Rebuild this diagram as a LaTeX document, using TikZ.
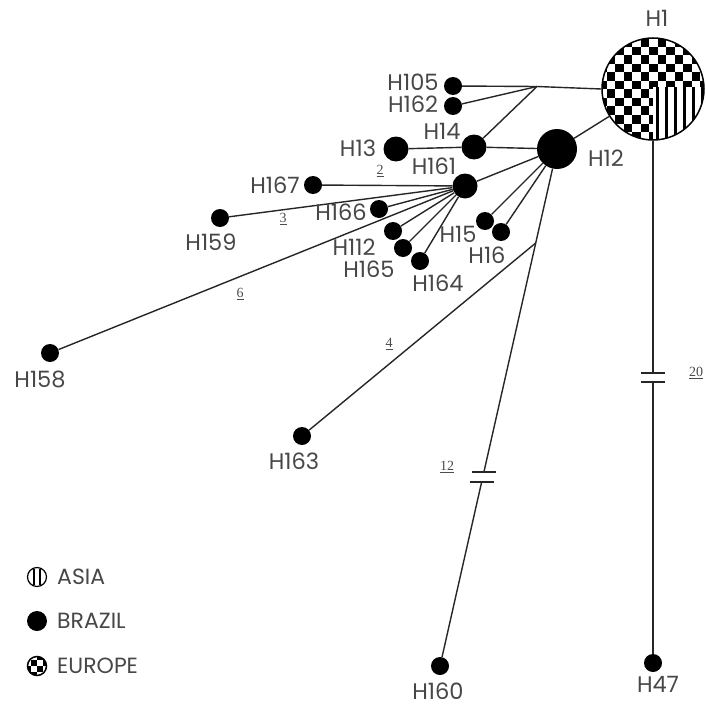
\documentclass[tikz,border=0pt]{standalone}
\usepackage{fontspec}
\setmainfont{Poppins}
\newfontfamily\numfont{Liberation Serif}
\usetikzlibrary{calc}

\begin{document}
\begin{tikzpicture}[x=1pt,y=-1pt,
  edge/.style={line width=1.4pt, black!85},
  hap/.style={circle, fill=black, inner sep=0pt, minimum size=#1},
  hap/.default=18pt,
  lbl/.style={font=\fontsize{22.5}{22.5}\selectfont, text=black!72, inner sep=0pt},
  steps/.style={font=\numfont\fontsize{14}{14}\selectfont, text=black!70, inner sep=0pt},
  legtxt/.style={font=\fontsize{22}{22}\selectfont, text=black!72, inner sep=0pt, anchor=west},
]
\useasboundingbox (0,0) rectangle (706,706);

% ---- haplotype H1: Europe (checkerboard) and Asia (stripes)
\begin{scope}
  \clip (653,89) circle (51);
  \foreach \i in {0,...,13}{
    \foreach \j in {0,...,7}{
      \pgfmathsetmacro\yy{30+8.5*(2*\j+mod(\i,2))}
      \fill (598+8.5*\i,\yy) rectangle ++(8.5,8.5);
    }
  }
  \fill[white] (653,87) rectangle (710,145);
  \foreach \k in {0,...,5}{
    \fill (656+9*\k,87) rectangle ++(3,60);
  }
\end{scope}
\node[circle, draw, line width=1.5pt, minimum size=102pt, inner sep=0pt] (H1) at (653,89) {};

% ---- other haplotypes
\node[hap=40pt] (H12) at (557,149) {};
\node[hap=25pt] (H14) at (474,147) {};
\node[hap=25pt] (H13) at (396,149) {};
\node[hap=25pt] (H161) at (465,186) {};
\node[hap] (H105) at (453,86) {};
\node[hap] (H162) at (453,106) {};
\node[hap] (H167) at (313,185) {};
\node[hap] (H159) at (220,218) {};
\node[hap] (H166) at (379,209) {};
\node[hap] (H112) at (393,231) {};
\node[hap] (H165) at (403,248) {};
\node[hap] (H164) at (420,261) {};
\node[hap] (H15) at (485,221) {};
\node[hap] (H16) at (501,232) {};
\node[hap] (H158) at (50,353) {};
\node[hap] (H163) at (302,436) {};
\node[hap] (H160) at (440,666) {};
\node[hap] (H47) at (653,663) {};

% ---- junctions and breaks
\coordinate (J1) at (537,86.5);
\coordinate (J2) at ($(H12)!0.1818!(H160)$);
\coordinate (bkA) at ($(H12)!0.6248!(H160)$);
\coordinate (bkB) at ($(H12)!0.6441!(H160)$);
\coordinate (bkC) at (653,373);
\coordinate (bkD) at (653,382);

% ---- connectors
\draw[edge] (H105) -- (J1) -- (H1.180);
\draw[edge] (H162) -- (J1);
\draw[edge] (H14) -- (J1);
\draw[edge] (H13) -- (H14);
\draw[edge] (H14) -- (H12);
\draw[edge] (H12) -- (H1);
\draw[edge] (H161) -- (H12);
\draw[edge] (H12) -- (H15);
\draw[edge] (H12) -- (H16);
\foreach \t in {H167,H159,H166,H112,H165,H164,H158}
  \draw[edge] (H161) -- (\t);
\draw[edge] (H12) -- (bkA);
\draw[edge] (bkB) -- (H160);
\draw[edge] (J2) -- (H163);
\draw[edge] (H1) -- (bkC);
\draw[edge] (bkD) -- (H47);
\draw[edge] ([xshift=-12]bkA) -- ([xshift=12]bkA);
\draw[edge] ([xshift=-12]bkB) -- ([xshift=12]bkB);
\draw[edge] ([xshift=-12]bkC) -- ([xshift=12]bkC);
\draw[edge] ([xshift=-12]bkD) -- ([xshift=12]bkD);

% ---- labels
\node[lbl] (tH1) at (657,18) {H1};
\node[lbl] (tH105) at (413,82) {H105};
\node[lbl] (tH162) at (413,104) {H162};
\node[lbl] (tH14) at (442,131) {H14};
\node[lbl] (tH13) at (358,148) {H13};
\node[lbl] (tH161) at (434,166) {H161};
\node[lbl] (tH12) at (606,158) {H12};
\node[lbl] (tH167) at (275,185) {H167};
\node[lbl] (tH166) at (341,212) {H166};
\node[lbl] (tH159) at (211,242) {H159};
\node[lbl] (tH112) at (354,247) {H112};
\node[lbl] (tH165) at (369,269) {H165};
\node[lbl] (tH164) at (438,283) {H164};
\node[lbl] (tH15) at (458,234) {H15};
\node[lbl] (tH16) at (487,255) {H16};
\node[lbl] (tH158) at (40,379) {H158};
\node[lbl] (tH163) at (294,461) {H163};
\node[lbl] (tH160) at (438,691) {H160};
\node[lbl] (tH47) at (658,684) {H47};

% ---- mutation steps
\node[steps] (s2) at (380,171) {\underline{2}};
\node[steps] (s3) at (283,219) {\underline{3}};
\node[steps] (s6) at (240,294) {\underline{6}};
\node[steps] (s4) at (389,344) {\underline{4}};
\node[steps] (s12) at (447,467) {\underline{12}};
\node[steps] (s20) at (696,373) {\underline{20}};

% ---- legend
\node[circle, draw, line width=1.2pt, minimum size=19pt, inner sep=0pt] (kAsia) at (37,577) {};
\draw[line width=1.2pt] (34,569) -- (34,585) (40,569) -- (40,585);
\node[hap=20pt] (kBrazil) at (37,621) {};
\begin{scope}
  \clip (37,666) circle (9.5);
  \foreach \i in {0,...,3}{
    \foreach \j in {0,...,3}{
      \pgfmathsetmacro\yy{654+6*(2*\j+mod(\i,2))}
      \fill (25+6*\i,\yy) rectangle ++(6,6);
    }
  }
\end{scope}
\node[circle, draw, line width=1.5pt, minimum size=19pt, inner sep=0pt] (kEurope) at (37,666) {};
\node[legtxt] (tAsia) at (57,577) {ASIA};
\node[legtxt] (tBrazil) at (57,621) {BRAZIL};
\node[legtxt] (tEurope) at (57,666) {EUROPE};
\end{tikzpicture}
\end{document}
